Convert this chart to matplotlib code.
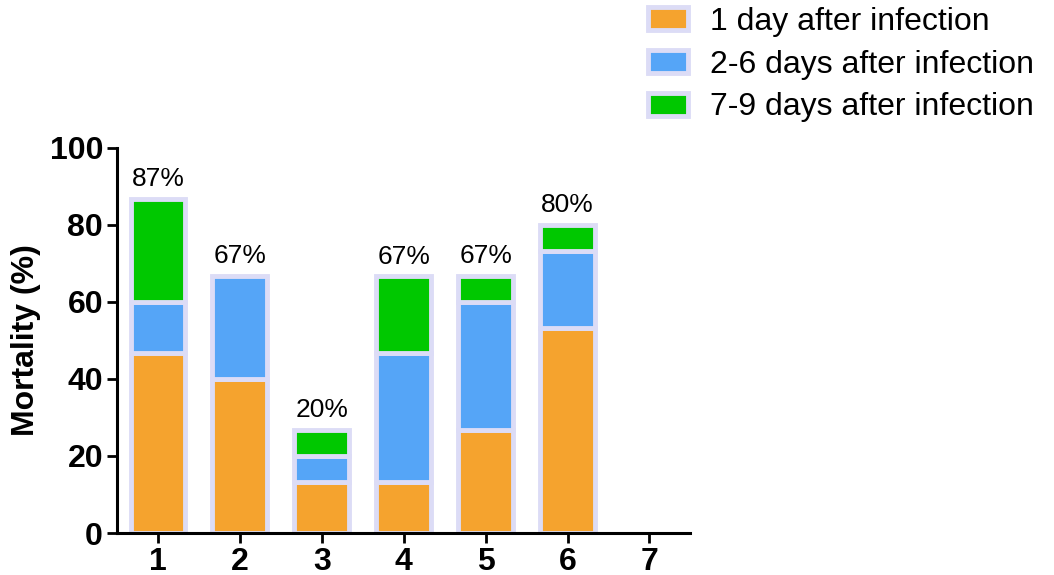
import numpy as np
import matplotlib.pyplot as plt
from matplotlib.patches import Patch

plt.rcParams['font.family'] = ['Liberation Sans', 'DejaVu Sans']

# data (percent of each group)
groups = [1, 2, 3, 4, 5, 6, 7]
day1 = [46.7, 40.0, 13.3, 13.3, 26.7, 53.3, 0]
day2_6 = [13.3, 26.7, 6.7, 33.3, 33.3, 20.0, 0]
day7_9 = [26.7, 0, 6.7, 20.0, 6.7, 6.7, 0]
labels = ['87%', '67%', '20%', '67%', '67%', '80%', '']
series_names = ['1 day after infection', '2-6 days after infection', '7-9 days after infection']
colors = ['#F5A32E', '#55A5F7', '#00C800']
edge = '#DCDCF6'

fig = plt.figure(figsize=(10.54, 5.75), dpi=100)
ax = fig.add_axes([0.111, 0.073, 0.544, 0.67])

x = np.array(groups)
w = 0.67
bottom = np.zeros(len(groups))
for vals, c in zip([day1, day2_6, day7_9], colors):
    vals = np.array(vals, dtype=float)
    keep = vals > 0
    ax.bar(x[keep], vals[keep], w, bottom=bottom[keep], color=c,
           edgecolor=edge, linewidth=3.5, zorder=2)
    bottom += vals

for xi, top, lab in zip(x, bottom, labels):
    if lab:
        ax.text(xi, top + 2, lab, ha='center', va='bottom', fontsize=19)

ax.set_xlim(0.5, 7.5)
ax.set_ylim(0, 100)
ax.set_xticks(groups)
ax.set_yticks([0, 20, 40, 60, 80, 100])
ax.set_ylabel('Mortality (%)', fontsize=23, fontweight='bold', labelpad=6)
for lab in ax.get_xticklabels() + ax.get_yticklabels():
    lab.set_fontweight('bold')
ax.tick_params(axis='both', labelsize=23, width=2, length=7, direction='out', pad=3)
for s in ['top', 'right']:
    ax.spines[s].set_visible(False)
for s in ['left', 'bottom']:
    ax.spines[s].set_linewidth(2.2)

handles = [Patch(facecolor=c, edgecolor=edge, linewidth=3.5) for c in colors]
fig.legend(handles, series_names, loc='upper left', bbox_to_anchor=(0.615, 0.988),
           frameon=False, fontsize=23, handlelength=1.25, handleheight=0.72,
           handletextpad=0.68, labelspacing=0.4, borderpad=0, borderaxespad=0)

fig.savefig('out.png', dpi=100)
